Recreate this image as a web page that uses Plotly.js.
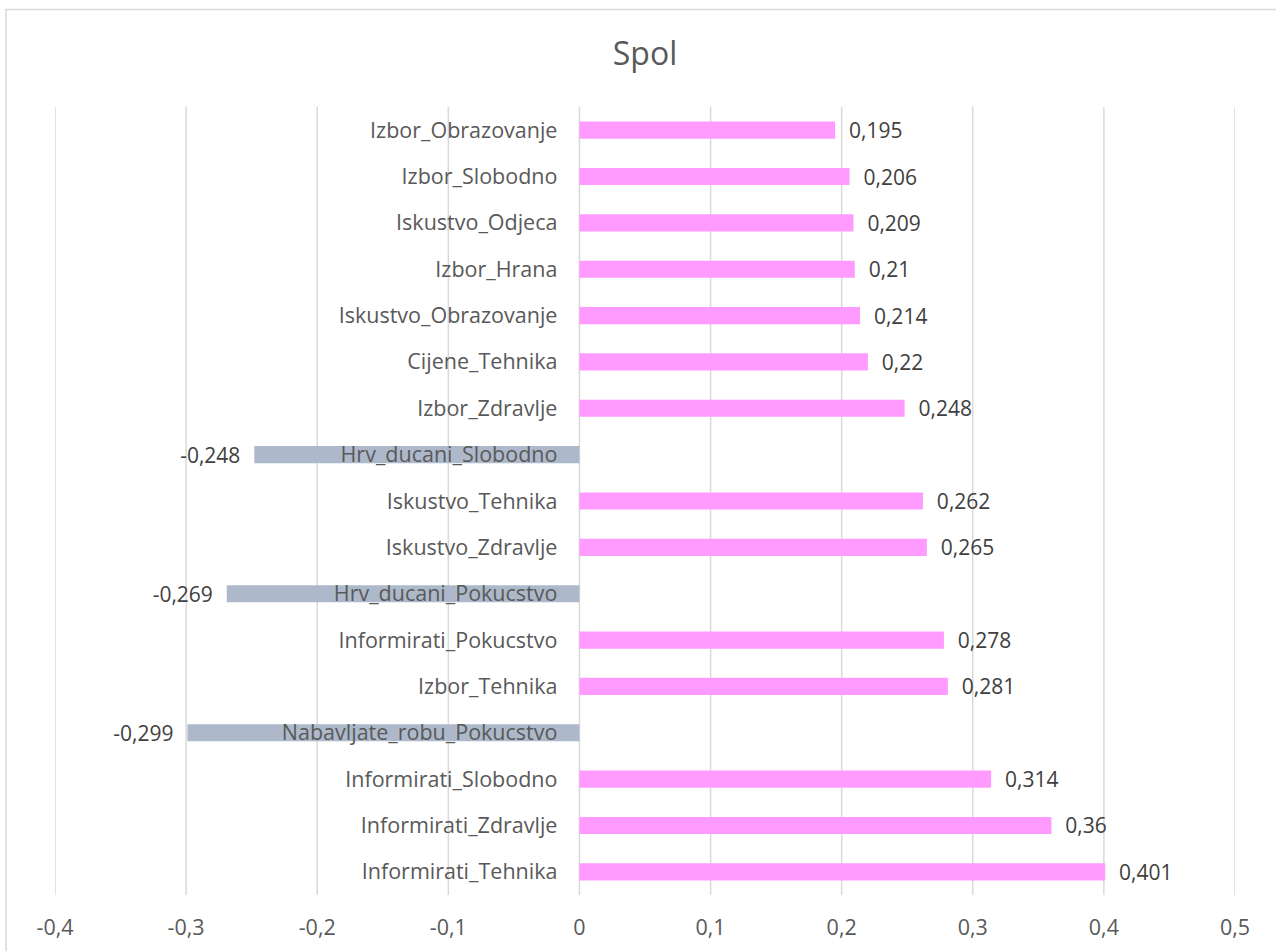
<!DOCTYPE html>
<html>
<head>
<meta charset="utf-8">
<script src="https://cdn.plot.ly/plotly-3.0.1.min.js"></script>
<style>html,body{margin:0;padding:0;background:#fff;}#chart{width:1276px;height:951px;}</style>
</head>
<body>
<div id="chart"></div>
<script>
const categories = [
  "Izbor_Obrazovanje", "Izbor_Slobodno", "Iskustvo_Odjeca", "Izbor_Hrana",
  "Iskustvo_Obrazovanje", "Cijene_Tehnika", "Izbor_Zdravlje", "Hrv_ducani_Slobodno",
  "Iskustvo_Tehnika", "Iskustvo_Zdravlje", "Hrv_ducani_Pokucstvo", "Informirati_Pokucstvo",
  "Izbor_Tehnika", "Nabavljate_robu_Pokucstvo", "Informirati_Slobodno",
  "Informirati_Zdravlje", "Informirati_Tehnika"
];
const values = [
  0.195, 0.206, 0.209, 0.21, 0.214, 0.22, 0.248, -0.248,
  0.262, 0.265, -0.269, 0.278, 0.281, -0.299, 0.314, 0.36, 0.401
];
const tickValues = [-0.4, -0.3, -0.2, -0.1, 0, 0.1, 0.2, 0.3, 0.4, 0.5];
const tickLabels = ["-0,4", "-0,3", "-0,2", "-0,1", "0", "0,1", "0,2", "0,3", "0,4", "0,5"];
const titleText = "Spol";

const posColor = "#FF9BFF";
const negColor = "#ADB9CA";
const FONT = "Open Sans, Liberation Sans, sans-serif";

const W = 1276, H = 951;
const L = 55, R = 41, T = 107, B = 56;
const pw = W - L - R, ph = H - T - B;
const px = p => (p - L) / pw;
const py = p => (H - B - p) / ph;

const pad = "\u00a0\u00a0";
const trace = {
  type: "bar",
  orientation: "h",
  y: categories,
  x: values,
  marker: { color: values.map(v => v < 0 ? negColor : posColor) },
  text: values.map(v => {
    const s = String(v).replace(".", ",");
    return v < 0 ? s + pad : pad + s;
  }),
  textposition: "outside",
  constraintext: "none",
  cliponaxis: false,
  textfont: { family: FONT, size: 21, color: "#404040" },
  hoverinfo: "none"
};

const gridShapes = tickValues.map(v => ({
  type: "line", xref: "x", yref: "paper",
  x0: v, x1: v, y0: 0, y1: 1,
  line: { color: "#D9D9D9", width: 1.5 },
  layer: "below"
}));

const layout = {
  width: W, height: H,
  margin: { l: L, r: R, t: T, b: B },
  paper_bgcolor: "#fff",
  plot_bgcolor: "#fff",
  showlegend: false,
  bargap: 0.63,
  separators: ", ",
  title: {
    text: titleText,
    x: 0.5, xref: "paper", xanchor: "center",
    y: 55, yref: "container", yanchor: "middle",
    font: { family: FONT, size: 32, color: "#595959" }
  },
  xaxis: {
    range: [-0.4, 0.5],
    tickvals: tickValues,
    ticktext: tickLabels,
    showgrid: false,
    zeroline: false,
    showline: false,
    ticks: "",
    ticklabelstandoff: 17,
    tickfont: { family: FONT, size: 21.5, color: "#595959" },
    fixedrange: true
  },
  yaxis: {
    type: "category",
    autorange: "reversed",
    anchor: "free",
    position: 4 / 9,
    showgrid: false,
    zeroline: false,
    showline: false,
    ticks: "",
    ticklabelstandoff: 22,
    tickfont: { family: FONT, size: 21.5, color: "#595959" },
    layer: "above traces",
    fixedrange: true
  },
  shapes: gridShapes.concat([{
    type: "rect", xref: "paper", yref: "paper",
    x0: px(6), x1: px(1290), y0: py(965), y1: py(9.5),
    line: { color: "#D9D9D9", width: 1.5 },
    fillcolor: "rgba(0,0,0,0)",
    layer: "below"
  }])
};

Plotly.newPlot("chart", [trace], layout, { staticPlot: true, displayModeBar: false });
</script>
</body>
</html>
